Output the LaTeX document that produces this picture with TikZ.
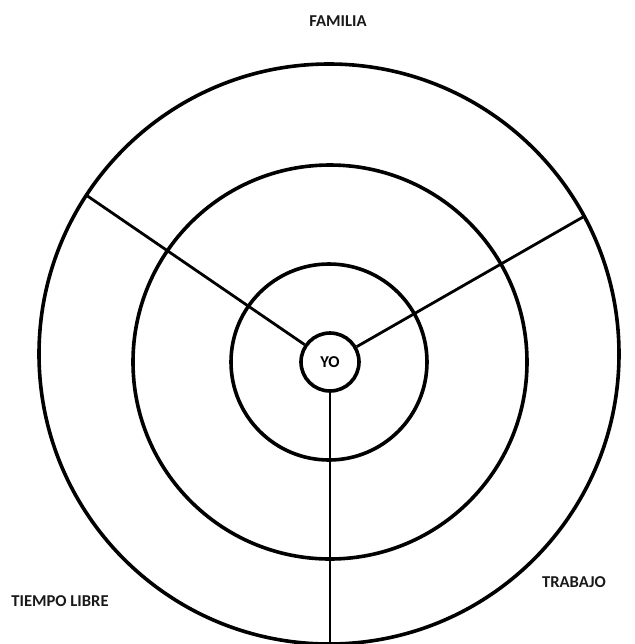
\documentclass[tikz,border=0pt]{standalone}
\usepackage{fontspec}
\setmainfont{Carlito}
\usetikzlibrary{positioning}
\begin{document}
\begin{tikzpicture}[x=0.5pt,y=-0.5pt,
  ring/.style={line width=1.8pt},
  spoke/.style={line width=1.4pt},
  lbl/.style={font=\bfseries\fontsize{8.3}{10}\selectfont,text=black!90},
  hub/.style={draw,circle,line width=1.8pt,minimum size=29pt,inner sep=0pt,font=\bfseries\fontsize{8.3}{10}\selectfont}]
  \useasboundingbox (0,0) rectangle (634,644);
  % rings
  \draw[ring] (329,354) circle[radius=290];
  \draw[ring] (330,362) circle[radius=197];
  \draw[ring] (329,362) circle[radius=98];
  \node[hub] (yo) at (330,362) {YO};
  % spoke ends
  \coordinate (famL) at (86,195);
  \coordinate (famR) at (583,217);
  \coordinate (base) at (330,646);
  \draw[spoke] (yo) -- (famL);
  \draw[spoke] (yo) -- (famR);
  \draw[spoke] (yo) -- (base);
  % labels
  \node[lbl] (familia) at (338,21) {FAMILIA};
  \node[lbl] (trabajo) at (574,582) {TRABAJO};
  \node[lbl] (libre) at (60,601) {TIEMPO LIBRE};
\end{tikzpicture}
\end{document}
